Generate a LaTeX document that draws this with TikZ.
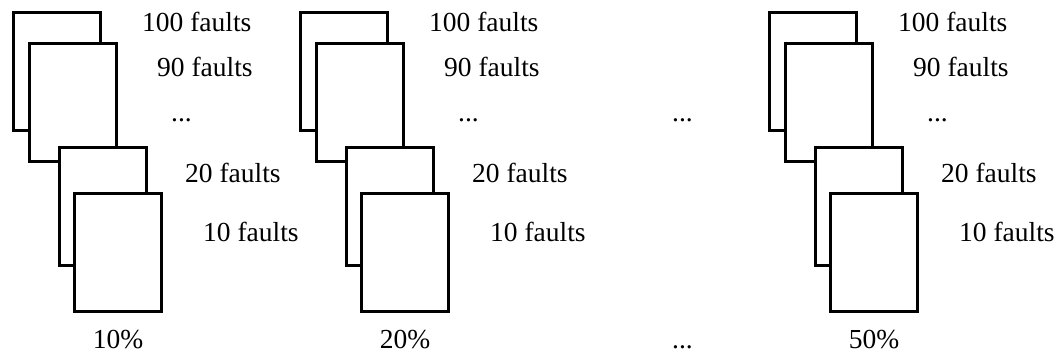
\documentclass[tikz,border=0pt]{standalone}
\usepackage{fontspec}
\setmainfont{Liberation Serif}
\begin{document}
\begin{tikzpicture}[x=1pt,y=1pt,
  page/.style={draw,line width=3pt,fill=white,minimum width=87pt,minimum height=118pt,inner sep=0pt},
  lbl/.style={anchor=base west,inner sep=0pt,font=\fontsize{27.5}{33}\selectfont}]
\useasboundingbox (0,0) rectangle (1057,356);
\foreach \dx/\p/\n in {0/10/1,287/20/2,756/50/3}
{
\begin{scope}[xshift=\dx pt]
% stack of pages, back to front
\node[page] (a\n) at (57,284.5) {};
\node[page] (b\n) at (72.5,253.5) {};
\node[page] (c\n) at (103,149) {};
\node[page] (d\n) at (117.5,103) {};
\node[lbl] (hundred\n) at (142,324) {100 faults};
\node[lbl] (ninety\n) at (157,279) {90 faults};
\node[lbl] (dots\n) at (171,234) {...};
\node[lbl] (twenty\n) at (185,173) {20 faults};
\node[lbl] (ten\n) at (203,114) {10 faults};
\node[lbl,anchor=base] (pct\n) at (118,8) {\p\%};
\end{scope}
}
\node[lbl] (middots) at (672,234) {...};
\node[lbl] (botdots) at (672,8) {...};
\end{tikzpicture}
\end{document}
